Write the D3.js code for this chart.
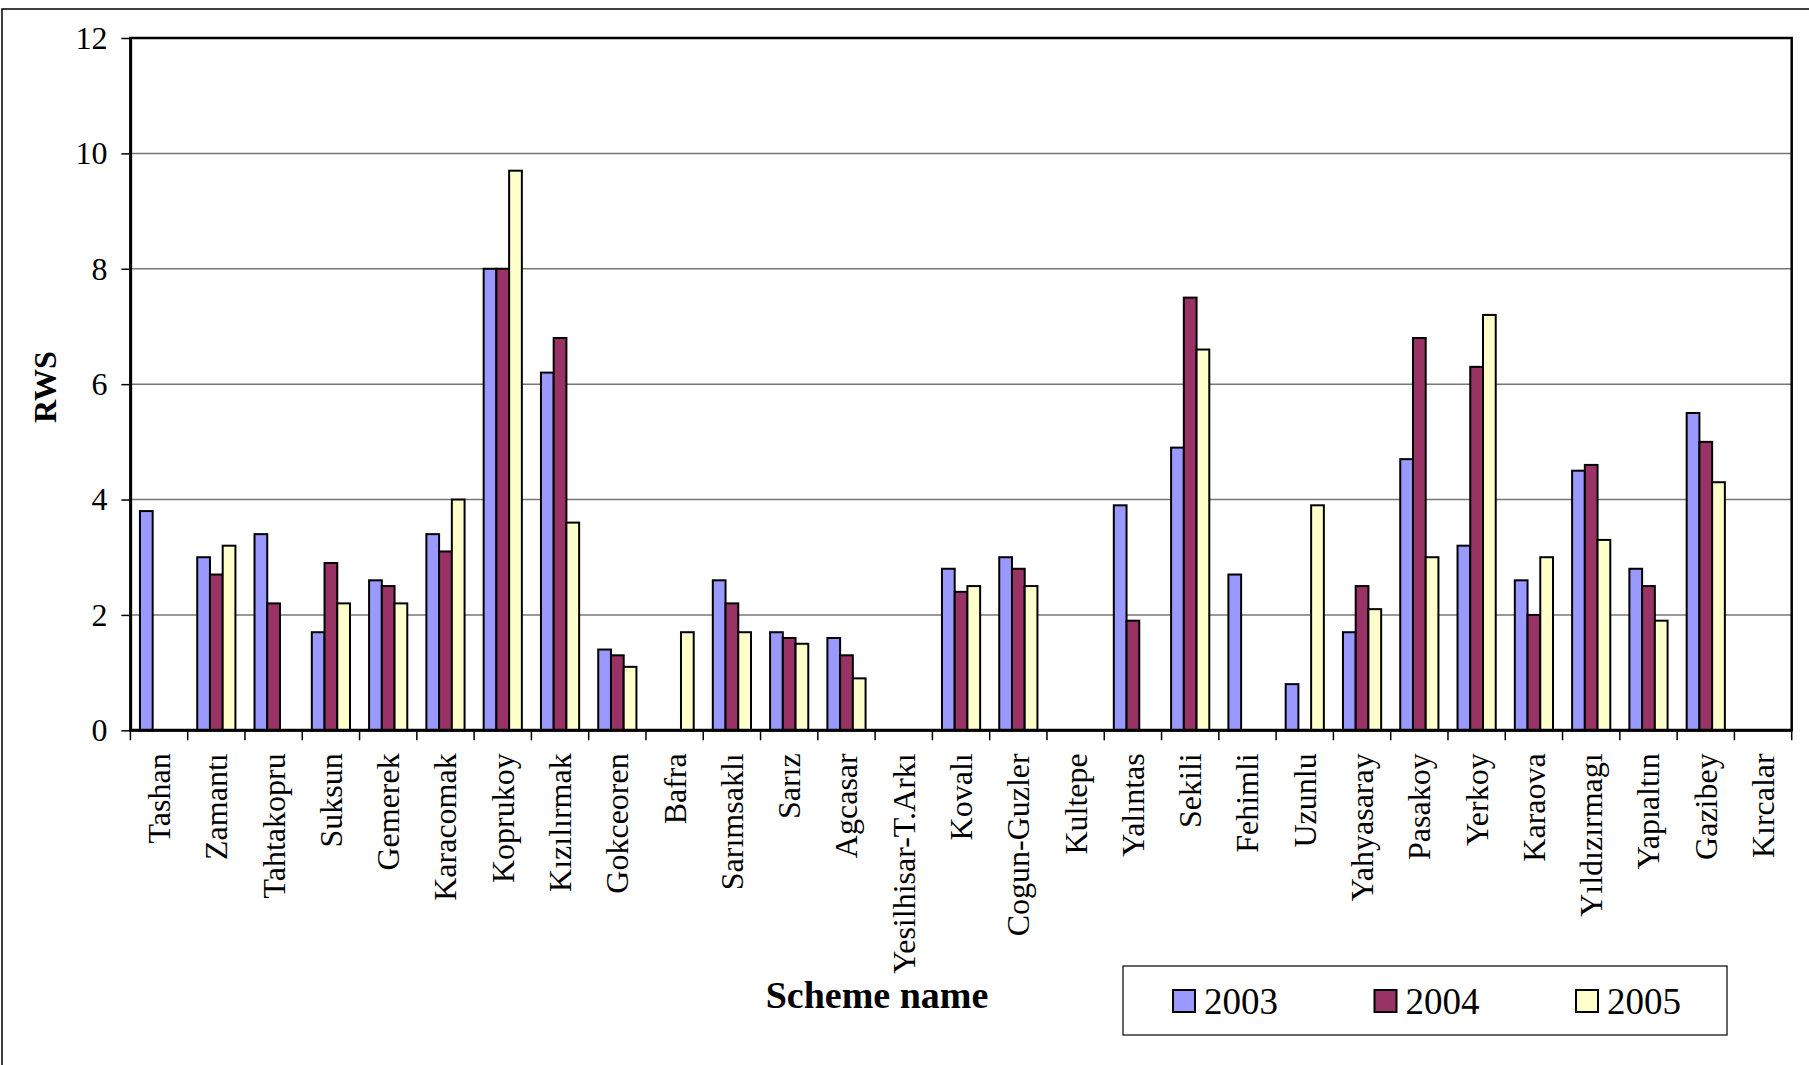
<!DOCTYPE html>
<html>
<head>
<meta charset="utf-8">
<script src="https://cdn.jsdelivr.net/npm/d3@7"></script>
<style>
  body { margin: 0; background: #fff; }
  svg { display: block; }
  svg text { font-family: "Liberation Serif", "Times New Roman", serif !important; }
</style>
</head>
<body>
<svg id="chart"></svg>
<script>
// scheme names along the x axis
const schemes = ["Tashan", "Zamantı", "Tahtakopru", "Suksun", "Gemerek", "Karacomak",
  "Koprukoy", "Kızılırmak", "Gokceoren", "Bafra", "Sarımsaklı", "Sarız", "Agcasar",
  "Yesilhisar-T.Arkı", "Kovalı", "Cogun-Guzler", "Kultepe", "Yalıntas", "Sekili",
  "Fehimli", "Uzunlu", "Yahyasaray", "Pasakoy", "Yerkoy", "Karaova", "Yıldızırmagı",
  "Yapıaltın", "Gazibey", "Kırcalar"];

const years = ["2003", "2004", "2005"];

// RWS values, null = no bar
const rws2003 = [3.8, 3.0, 3.4, 1.7, 2.6, 3.4, 8.0, 6.2, 1.4, null, 2.6, 1.7, 1.6, null,
  2.8, 3.0, null, 3.9, 4.9, 2.7, 0.8, 1.7, 4.7, 3.2, 2.6, 4.5, 2.8, 5.5, null];
const rws2004 = [null, 2.7, 2.2, 2.9, 2.5, 3.1, 8.0, 6.8, 1.3, null, 2.2, 1.6, 1.3, null,
  2.4, 2.8, null, 1.9, 7.5, null, null, 2.5, 6.8, 6.3, 2.0, 4.6, 2.5, 5.0, null];
const rws2005 = [null, 3.2, null, 2.2, 2.2, 4.0, 9.7, 3.6, 1.1, 1.7, 1.7, 1.5, 0.9, null,
  2.5, 2.5, null, null, 6.6, null, 3.9, 2.1, 3.0, 7.2, 3.0, 3.3, 1.9, 4.3, null];

const yTicks = [0, 2, 4, 6, 8, 10, 12];
const colors = ["#9999FF", "#993366", "#FFFFCC"];

const width = 1809;
const height = 1065;
const plotL = 130.4, plotR = 1791.7, plotT = 38, plotB = 730.3;

const svg = d3.select("#chart").attr("width", width).attr("height", height);

// outer frame
svg.append("rect")
  .attr("x", 2).attr("y", 9).attr("width", width + 10).attr("height", height + 10)
  .attr("fill", "none").attr("stroke", "#000").attr("stroke-width", 1.5);

const x0 = d3.scaleBand().domain(schemes).range([plotL, plotR]).padding(0);
const x1 = d3.scaleBand().domain(years).range([0, x0.bandwidth()]).paddingInner(0).paddingOuter(0.75);
const y = d3.scaleLinear().domain([0, 12]).range([plotB, plotT]);

// gridlines
svg.append("g").selectAll("line")
  .data(yTicks.filter(d => d > 0 && d < 12))
  .enter().append("line")
  .attr("x1", plotL).attr("x2", plotR)
  .attr("y1", d => y(d)).attr("y2", d => y(d))
  .attr("stroke", "#777").attr("stroke-width", 1.5);

// bars
const rows = schemes.map((s, i) => ({
  name: s,
  vals: [rws2003[i], rws2004[i], rws2005[i]]
}));

const groups = svg.append("g").selectAll("g")
  .data(rows).enter().append("g")
  .attr("transform", d => "translate(" + x0(d.name) + ",0)");

groups.selectAll("rect")
  .data(d => d.vals.map((v, k) => ({ year: years[k], v: v, k: k })).filter(e => e.v !== null))
  .enter().append("rect")
  .attr("x", e => x1(e.year))
  .attr("width", x1.bandwidth())
  .attr("y", e => y(e.v))
  .attr("height", e => y(0) - y(e.v))
  .attr("fill", e => colors[e.k])
  .attr("stroke", "#000").attr("stroke-width", 2);

// plot area border
svg.append("rect")
  .attr("x", plotL).attr("y", plotT).attr("width", plotR - plotL).attr("height", plotB - plotT)
  .attr("fill", "none").attr("stroke", "#000").attr("stroke-width", 2.5);

// y axis
const yAxis = d3.axisLeft(y).tickValues(yTicks).tickSize(9).tickPadding(14).tickSizeOuter(0);
const yg = svg.append("g").attr("transform", "translate(" + plotL + ",0)").call(yAxis);
yg.attr("font-family", null);
yg.select(".domain").attr("stroke", "#000").attr("stroke-width", 2.5);
yg.selectAll(".tick line").attr("stroke", "#000").attr("stroke-width", 1.5);
yg.selectAll(".tick text")
  .attr("font-size", 32).attr("fill", "#000");

// x axis ticks at category boundaries
const bounds = schemes.map(s => x0(s)).concat([plotR]);
svg.append("g").selectAll("line")
  .data(bounds).enter().append("line")
  .attr("x1", d => d).attr("x2", d => d)
  .attr("y1", plotB).attr("y2", plotB + 10)
  .attr("stroke", "#000").attr("stroke-width", 1.5);

svg.append("line")
  .attr("x1", plotL).attr("x2", plotR).attr("y1", plotB).attr("y2", plotB)
  .attr("stroke", "#000").attr("stroke-width", 3);

// category labels
svg.append("g").selectAll("text")
  .data(schemes).enter().append("text")
  .attr("transform", d => "translate(" + (x0(d) + x0.bandwidth() / 2) + "," + (plotB + 23) + ") rotate(-90)")
  .attr("text-anchor", "end")
  .attr("dominant-baseline", "central")
  .attr("font-size", 32)
  .attr("fill", "#000")
  .text(d => d);

// axis titles
svg.append("text")
  .attr("transform", "translate(45,387) rotate(-90)")
  .attr("text-anchor", "middle").attr("dominant-baseline", "central")
  .attr("font-size", 32).attr("font-weight", "bold")
  .text("RWS");

svg.append("text")
  .attr("x", 877).attr("y", 1008)
  .attr("text-anchor", "middle")
  .attr("font-size", 38).attr("font-weight", "bold")
  .text("Scheme name");

// legend
const legend = svg.append("g");
legend.append("rect")
  .attr("x", 1123).attr("y", 966).attr("width", 604).attr("height", 69)
  .attr("fill", "#fff").attr("stroke", "#000").attr("stroke-width", 1.2);

const items = legend.selectAll("g.item")
  .data(years).enter().append("g")
  .attr("class", "item")
  .attr("transform", (d, i) => "translate(" + (1173 + i * 201.5) + ",0)");
items.append("rect")
  .attr("x", 0).attr("y", 990).attr("width", 22).attr("height", 22)
  .attr("fill", (d, i) => colors[i]).attr("stroke", "#000").attr("stroke-width", 2);
items.append("text")
  .attr("x", 31).attr("y", 1014)
  .attr("font-size", 37).attr("fill", "#000")
  .text(d => d);
</script>
</body>
</html>
